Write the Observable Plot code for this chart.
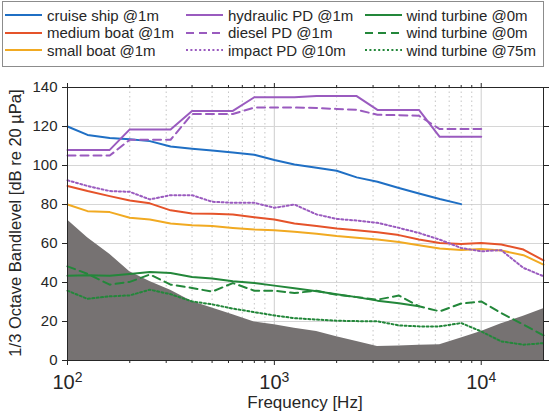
<!DOCTYPE html>
<html><head><meta charset="utf-8">
<script src="https://cdn.jsdelivr.net/npm/d3@7"></script>
<script src="https://cdn.jsdelivr.net/npm/@observablehq/plot@0.6"></script>
<style>
body{margin:0;background:#fff;}
#wrap{position:relative;width:550px;height:416px;font-family:"Liberation Sans",Arial,sans-serif;overflow:hidden;}
#chart{position:absolute;left:0;top:0;}
#legend{position:absolute;left:2px;top:1px;width:540px;height:64px;border:1px solid #8c8c8c;background:#fff;}
.lg-line{position:absolute;}
.lg-text{position:absolute;font-size:15px;color:#262626;line-height:17px;white-space:nowrap;}
</style></head>
<body><div id="wrap"><div id="chart"></div><div id="legend"></div></div>
<script>
// third-octave band centre frequencies [Hz]
const freqs = [100,125,160,200,250,315,400,500,630,800,1000,1250,1600,2000,2500,3150,4000,5000,6300,8000,10000,12500,16000,20000];

// series values [dB], aligned with freqs (shorter series end earlier)
const cruiseShip   = [120,115.7,114.1,113.5,112.5,109.7,108.6,107.7,106.7,105.5,102.8,100.5,98.8,97.3,93.9,91.7,88.5,85.6,82.8,80.2];
const mediumBoat   = [89.5,86.9,84.3,82.1,80.6,77,75.4,75.2,74.9,73.5,72.3,70.3,69,67.7,66.8,65.8,64.3,62,60.3,59.8,60.3,59.5,56.9,51.3];
const smallBoat    = [80,76.6,76.1,73.2,72.3,70.3,69.4,69,68,67.2,66.8,66,65,63.8,62.9,62,60.8,59.1,57.4,56.7,57.2,56.4,54,49.2];
const hydraulicPD  = [108,108,108,118.5,118.5,118.5,128,128,128,135,135,135,135.6,135.6,135.6,128.5,128.5,128.5,114.7,114.7,114.7];
const dieselPD     = [105.1,105.1,105.1,113.2,113.2,113.2,126.4,126.4,126.4,129.7,129.7,129.7,129.5,129,128.6,126,125.8,125.5,118.7,118.7,118.7];
const impactPD     = [92.4,89.5,86.9,86.5,82.6,84.8,84.8,81.4,80.9,80.9,78.3,80,74.9,72.6,71.8,70.6,68,65.4,62,57.7,56,56.6,47.5,43.2];
const windTurbine0 = [43.5,43.7,43.5,44.4,45.4,44.9,42.8,42,40.6,39.7,38.4,37,35.5,34,32.5,30.7,29.3,27.8];
const windTurbine0b= [48.3,44.4,38.9,40.3,44.1,38.9,37.2,35.3,39.7,35.8,35.8,34.6,35.8,33.7,32.5,31.2,33.3,27.8,25.2,29.2,30.3,24.3,18.4,12.9];
const windTurbine75= [35.8,31.6,32.9,33.4,36.3,34,30.3,28.8,26.6,24.8,23.1,21.7,21,20.4,20.2,20.1,18,17.5,17.5,19.2,14.9,9.8,8.1,8.9];
const ambient      = [72,63,54.5,45.5,40.5,36,30.3,26.9,23.5,19.7,18.3,16.5,14.9,12.2,9.7,7.2,7.5,7.8,8.1,11.5,14.9,18.8,22.7,26.6];

const yTicks = [0,20,40,60,80,100,120,140];
const majorX = [100,1000,10000];
const minorX = [200,300,400,500,600,700,800,900,2000,3000,4000,5000,6000,7000,8000,9000];

const seriesNames = ["cruise ship @1m","medium boat @1m","small boat @1m","hydraulic PD @1m","diesel PD @1m","impact PD @10m","wind turbine @0m","wind turbine @0m","wind turbine @75m"];
const seriesValues = [cruiseShip,mediumBoat,smallBoat,hydraulicPD,dieselPD,impactPD,windTurbine0,windTurbine0b,windTurbine75];

const C = {blue:"#1f6fc4",red:"#e5532a",yellow:"#f1aa22",purple:"#9a5bbf",green:"#23873a"};
const styles = [
  {stroke:C.blue},{stroke:C.red},{stroke:C.yellow},
  {stroke:C.purple},{stroke:C.purple,dash:"8,5"},{stroke:C.purple,dash:"2,2.4"},
  {stroke:C.green},{stroke:C.green,dash:"8,5"},{stroke:C.green,dash:"2,2.4"}
];

const rows = (arr, name) => freqs.map((f,i)=>({f, v: arr[i], s: name})).filter(d => d.v != null);
const ambientRows = rows(ambient, "ambient");

const lineMarks = seriesValues.map((arr,i)=>Plot.line(rows(arr, seriesNames[i]), {
  x:"f", y:"v", stroke: styles[i].stroke, strokeWidth:2,
  strokeDasharray: styles[i].dash || null, strokeLinejoin:"round"
}));

const chart = Plot.plot({
  width:550, height:416,
  marginTop:87, marginBottom:56, marginLeft:67, marginRight:7,
  style:{fontFamily:'"Liberation Sans", Arial, sans-serif', fontSize:"15px", color:"#262626", background:"transparent"},
  x:{type:"log", domain:[100,20000]},
  y:{domain:[0,140]},
  marks:[
    Plot.gridY(yTicks, {stroke:"#d6d6d6", strokeOpacity:1, strokeWidth:1.2}),
    Plot.gridX(minorX, {stroke:"#c4c4c4", strokeOpacity:1, strokeDasharray:"1.5,3"}),
    Plot.gridX([1000,10000], {stroke:"#d6d6d6", strokeOpacity:1, strokeWidth:1.2}),
    Plot.areaY(ambientRows, {x:"f", y:"v", fill:"#767272"}),
    ...lineMarks,
    Plot.frame({stroke:"#262626"}),
    Plot.axisY(yTicks, {anchor:"left", tickSize:5, tickPadding:5, fontSize:15, label:null, stroke:"#262626"}),
    Plot.axisY(yTicks, {anchor:"right", tickSize:5, tickFormat:()=>"", label:null, stroke:"#262626"}),
    Plot.axisX(majorX, {anchor:"bottom", tickSize:5, tickPadding:9, fontSize:20, label:null, stroke:"#262626",
      tickFormat: d => "10^" + Math.round(Math.log10(d))}),
    Plot.axisX(minorX, {anchor:"bottom", tickSize:3, tickFormat:()=>"", label:null, stroke:"#262626"}),
    Plot.axisX(majorX, {anchor:"top", tickSize:5, tickFormat:()=>"", label:null, stroke:"#262626"}),
    Plot.axisX(minorX, {anchor:"top", tickSize:3, tickFormat:()=>"", label:null, stroke:"#262626"})
  ]
});

document.getElementById("chart").appendChild(chart);
const svg = d3.select(chart);
svg.selectAll("text").each(function(){
  const t = this.textContent;
  if (!t.includes("^")) return;
  const [b,e] = t.split("^");
  const sel = d3.select(this);
  sel.text(null);
  sel.append("tspan").text(b);
  sel.append("tspan").attr("dy","-0.45em").attr("font-size","14px").text(e);
});
svg.append("text").attr("x",305).attr("y",408).attr("text-anchor","middle")
  .attr("font-size",17).attr("fill","#262626").text("Frequency [Hz]");
svg.append("text").attr("transform","translate(20.5,223) rotate(-90)").attr("text-anchor","middle")
  .attr("font-size",16.5).attr("fill","#262626").text("1/3 Octave Bandlevel [dB re 20 µPa]");

// legend
const legend = document.getElementById("legend");
const colX = [[2,44],[183,225],[362,403.5]];
const rowY = [13,30.5,48];
seriesNames.forEach((name,i)=>{
  const c = Math.floor(i/3), r = i%3;
  const ls = document.createElementNS("http://www.w3.org/2000/svg","svg");
  ls.setAttribute("class","lg-line"); ls.setAttribute("width",37); ls.setAttribute("height",6);
  ls.style.left = colX[c][0]+"px"; ls.style.top = (rowY[r]-3)+"px";
  const ln = document.createElementNS("http://www.w3.org/2000/svg","line");
  ln.setAttribute("x1",0); ln.setAttribute("x2",37); ln.setAttribute("y1",3); ln.setAttribute("y2",3);
  ln.setAttribute("stroke",styles[i].stroke); ln.setAttribute("stroke-width",2);
  if (styles[i].dash) ln.setAttribute("stroke-dasharray",styles[i].dash);
  ls.appendChild(ln); legend.appendChild(ls);
  const tx = document.createElement("div");
  tx.className = "lg-text"; tx.textContent = name;
  tx.style.left = colX[c][1]+"px"; tx.style.top = (rowY[r]-8.5)+"px";
  legend.appendChild(tx);
});
</script>
</body></html>
